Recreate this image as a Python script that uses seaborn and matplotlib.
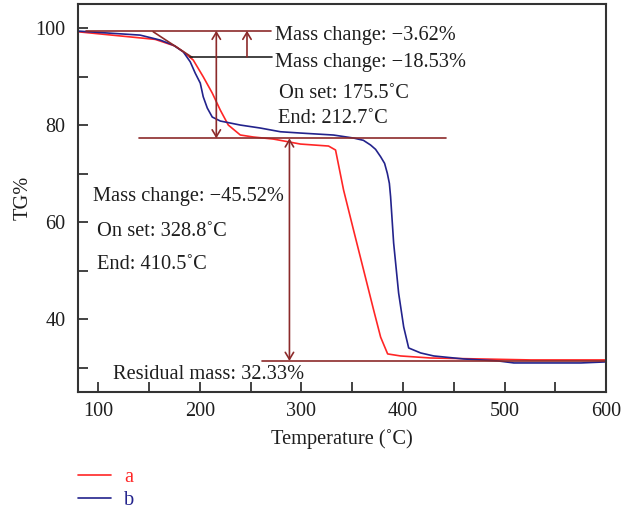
import numpy as np
import pandas as pd
import matplotlib
matplotlib.use("Agg")
import matplotlib.pyplot as plt
from matplotlib.ticker import AutoMinorLocator
import seaborn as sns

# ---- data ----
temp_a = [80, 156.0, 175.7, 183.6, 193.5, 203.3, 212.2, 220.1, 228.0, 239.8, 252.7, 272.4,
          299.0, 326.7, 333.6, 341.5, 351.3, 361.2, 371.1, 378.0, 384.9, 397.7, 427.3,
          476.6, 526.0, 600]
tg_a = [99.29, 97.72, 96.34, 95.16, 93.45, 90.01, 86.65, 83.14, 80.05, 78.0, 77.58, 77.16,
        76.13, 75.72, 74.9, 66.65, 58.4, 50.16, 41.9, 36.3, 32.84, 32.42, 32.0,
        31.8, 31.6, 31.6]

temp_b = [80, 141.2, 160.9, 173.7, 183.6, 190.5, 195.4, 200.4, 203.3, 207.3, 212.2, 220.1,
          239.8, 259.6, 279.3, 299.0, 331.6, 351.3, 361.0, 368.1, 373.0, 378.0, 381.9,
          384.6, 386.6, 387.8, 390.8, 395.7, 400.7, 405.6, 417.4, 430.3, 459.9, 493.5,
          509.2, 542.8, 575.3, 600]
tg_b = [99.43, 98.6, 97.58, 96.55, 95.16, 93.1, 90.77, 88.7, 85.89, 83.56, 81.7, 80.88,
        80.05, 79.43, 78.67, 78.4, 77.99, 77.37, 76.9, 75.93, 75.04, 73.51, 72.14,
        70.08, 68.02, 65.27, 55.72, 45.41, 38.4, 34.07, 33.04, 32.42, 31.8, 31.4,
        30.98, 30.98, 30.98, 31.2]

series_names = ["a", "b"]
x_ticks = [100, 200, 300, 400, 500, 600]
y_ticks = [40, 60, 80, 100]

notes_upper = ["Mass change: \u22123.62%", "Mass change: \u221218.53%",
               "On set: 175.5\u02daC", "End: 212.7\u02daC"]
notes_lower = ["Mass change: \u221245.52%", "On set: 328.8\u02daC",
               "End: 410.5\u02daC", "Residual mass: 32.33%"]

RED = "#ff2626"
BLUE = "#23238c"
MAROON = "#8c2a2a"
INK = "#1e1e1e"

df = pd.concat([
    pd.DataFrame({"Temperature": temp_a, "TG": tg_a, "sample": series_names[0]}),
    pd.DataFrame({"Temperature": temp_b, "TG": tg_b, "sample": series_names[1]}),
], ignore_index=True)

sns.set_style("ticks")
plt.rcParams["font.family"] = ["Liberation Serif", "DejaVu Serif"]
FS = 14.7
FS_TICK = 14.5

fig = plt.figure(figsize=(6.21, 5.11), dpi=100)
ax = fig.add_axes([0.1256, 0.233, 0.976 - 0.1256, 0.992 - 0.233])

sns.lineplot(data=df, x="Temperature", y="TG", hue="sample",
             palette={"a": RED, "b": BLUE}, linewidth=1.2, ax=ax, legend=True)

ax.set_xlim(80, 600)
ax.set_ylim(25, 105)
ax.set_xticks(x_ticks)
ax.set_yticks(y_ticks)
ax.xaxis.set_minor_locator(AutoMinorLocator(2))
ax.yaxis.set_minor_locator(AutoMinorLocator(2))
ax.tick_params(which="both", direction="in", length=7, width=1.2, colors="#222222",
               labelsize=FS_TICK, labelcolor=INK, top=False, right=False)
ax.tick_params(axis="x", pad=7)
ax.tick_params(axis="y", pad=9)
for s in ax.spines.values():
    s.set_linewidth(1.5)
    s.set_color("#333333")
ax.set_xlabel("Temperature (\u02daC)", fontsize=FS, color=INK, labelpad=6)
ax.set_ylabel("TG%", fontsize=FS, color=INK, labelpad=2)

# ---- annotation lines ----
lw = 1.2
ax.plot([88, 270.4], [99.5, 99.5], color=MAROON, lw=lw)
ax.plot([154, 192.5], [99.3, 94.0], color=MAROON, lw=lw)
ax.plot([190.5, 271.4], [94.1, 94.1], color="#222222", lw=lw)
ax.plot([140.2, 442.8], [77.3, 77.3], color=MAROON, lw=lw)
ax.plot([261.2, 600], [31.4, 31.4], color=MAROON, lw=lw)

arrow_kw = dict(color=MAROON, lw=lw, shrinkA=0, shrinkB=0)
ax.annotate("", xy=(216.2, 99.5), xytext=(216.2, 77.3),
            arrowprops=dict(arrowstyle="<->,head_length=0.5,head_width=0.3", **arrow_kw))
ax.annotate("", xy=(246.4, 99.5), xytext=(246.4, 94.1),
            arrowprops=dict(arrowstyle="->,head_length=0.5,head_width=0.3", **arrow_kw))
ax.annotate("", xy=(288.2, 77.3), xytext=(288.2, 31.4),
            arrowprops=dict(arrowstyle="<->,head_length=0.5,head_width=0.3", **arrow_kw))

txt = dict(fontsize=FS, color=INK, va="center", ha="left")
ax.text(274.4, 98.6, notes_upper[0], **txt)
ax.text(274.4, 93.04, notes_upper[1], **txt)
ax.text(277.5, 86.65, notes_upper[2], **txt)
ax.text(277.0, 81.5, notes_upper[3], **txt)
ax.text(94.8, 65.27, notes_lower[0], **txt)
ax.text(99.0, 58.05, notes_lower[1], **txt)
ax.text(99.0, 51.2, notes_lower[2], **txt)
ax.text(114.5, 28.5, notes_lower[3], **txt)

# ---- legend below the axes ----
handles, labels = ax.get_legend_handles_labels()
ax.get_legend().remove()
fig.legend(handles, labels, loc="upper left", bbox_to_anchor=(0.113, 0.101),
           frameon=False, fontsize=FS, handlelength=1.6, handletextpad=0.65,
           labelspacing=0.18, labelcolor="linecolor", borderaxespad=0)

fig.savefig("out.png", dpi=100)
